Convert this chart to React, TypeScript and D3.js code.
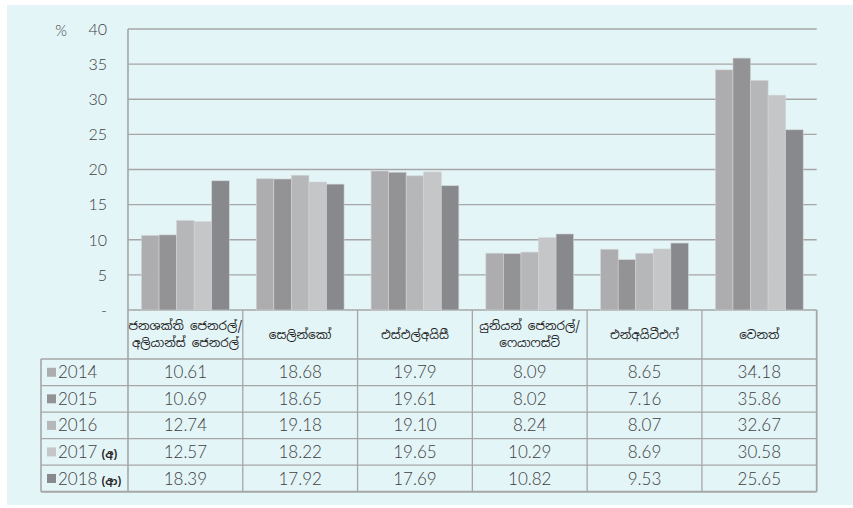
import React from "react";
import * as d3 from "d3";

const categories: string[][] = [
  ["ජනශක්ති ජෙනරල්/", "අලියාන්ස් ජෙනරල්"],
  ["සෙලින්කෝ"],
  ["එස්එල්අයිසී"],
  ["යුනියන් ජෙනරල්/", "ෆෙයාෆස්ට්"],
  ["එන්අයිටීඑෆ්"],
  ["වෙනත්"],
];
const seriesYears = ["2014", "2015", "2016", "2017", "2018"];
const seriesNotes = ["", "", "", "(අ)", "(ආ)"];
const v2014 = [10.61, 18.68, 19.79, 8.09, 8.65, 34.18];
const v2015 = [10.69, 18.65, 19.61, 8.02, 7.16, 35.86];
const v2016 = [12.74, 19.18, 19.1, 8.24, 8.07, 32.67];
const v2017 = [12.57, 18.22, 19.65, 10.29, 8.69, 30.58];
const v2018 = [18.39, 17.92, 17.69, 10.82, 9.53, 25.65];
const seriesValues = [v2014, v2015, v2016, v2017, v2018];
const yTicks = [0, 5, 10, 15, 20, 25, 30, 35, 40];
const colors = ["#adadaf", "#939396", "#b6b7b9", "#c5c6c8", "#88898c"];

const FONT = "Lato, 'Open Sans', sans-serif";
const SIN = "'Noto Sans Sinhala', 'Noto Sans', Lato, sans-serif";

export default function App() {
  const W = 853, H = 508;
  const left = 128, right = 816.7, top = 29, base = 310;
  const tableLeft = 41;
  const headerBottom = 359;
  const rowH = 26.55;
  const idx = categories.map((_, i) => String(i));
  const x = d3.scaleBand<string>().domain(idx).range([left, right]).padding(0);
  const inner = d3
    .scaleBand<string>()
    .domain(seriesYears)
    .range([13.5, x.bandwidth() - 13.5])
    .padding(0);
  const y = d3.scaleLinear().domain([0, 40]).range([base, top]);
  const tableBottom = headerBottom + rowH * seriesYears.length;
  const lineColor = "#a6a6a6";
  const textColor = "#404040";

  return (
    <svg
      width={W}
      height={H}
      style={{ position: "absolute", left: 0, top: 0 }}
    >
      <rect x={7} y={5} width={W - 7} height={500} fill="#e4f5f8" />
      {/* gridlines */}
      {yTicks.map((t) => (
        <line
          key={"g" + t}
          x1={left}
          x2={right}
          y1={y(t)}
          y2={y(t)}
          stroke={lineColor}
          strokeWidth={t === 0 ? 1.6 : 1.3}
        />
      ))}
      {/* tick labels */}
      {yTicks.map((t) => (
        <text
          key={"t" + t}
          x={107}
          y={y(t)}
          dy="0.36em"
          textAnchor="end"
          fontFamily={FONT}
          fontWeight={300}
          fontSize={16}
          fill={textColor}
        >
          {t === 0 ? "-" : t}
        </text>
      ))}
      <text
        x={61}
        y={y(40) + 2}
        dy="0.36em"
        textAnchor="middle"
        fontFamily={FONT}
        fontWeight={300}
        fontSize={15}
        fill={textColor}
      >
        %
      </text>
      {/* bars */}
      {categories.map((_, ci) =>
        seriesYears.map((yr, si) => {
          const v = seriesValues[si][ci];
          return (
            <rect
              key={ci + "-" + si}
              x={(x(String(ci)) as number) + (inner(yr) as number)}
              y={y(v)}
              width={inner.bandwidth()}
              height={base - y(v)}
              fill={colors[si]}
              stroke="#d2d3d5"
              strokeWidth={0.6}
            />
          );
        })
      )}
      {/* table lines */}
      <line x1={left} x2={left} y1={top} y2={tableBottom} stroke={lineColor} strokeWidth={1.6} />
      {idx.map((c, i) => (
        <line
          key={"v" + c}
          x1={(x(c) as number) + x.bandwidth()}
          x2={(x(c) as number) + x.bandwidth()}
          y1={base}
          y2={tableBottom}
          stroke={lineColor}
          strokeWidth={i === idx.length - 1 ? 1.8 : 1.3}
        />
      ))}
      <line x1={tableLeft} x2={tableLeft} y1={headerBottom} y2={tableBottom} stroke={lineColor} strokeWidth={1.6} />
      {d3.range(seriesYears.length + 1).map((r) => (
        <line
          key={"h" + r}
          x1={tableLeft}
          x2={right}
          y1={headerBottom + r * rowH}
          y2={headerBottom + r * rowH}
          stroke={lineColor}
          strokeWidth={r === seriesYears.length ? 1.8 : 1.3}
        />
      ))}
      {/* header labels */}
      {categories.map((lines, ci) => {
        const cx = (x(String(ci)) as number) + x.bandwidth() / 2;
        const cy = (base + headerBottom) / 2;
        return (
          <text
            key={"c" + ci}
            textAnchor="middle"
            fontFamily={SIN}
            fontSize={12}
            fill="#222"
          >
            {lines.map((l, li) => (
              <tspan
                key={li}
                x={cx}
                y={cy + (li - (lines.length - 1) / 2) * 17}
                dy="0.36em"
              >
                {l}
              </tspan>
            ))}
          </text>
        );
      })}
      {/* legend rows and values */}
      {seriesYears.map((yr, si) => {
        const cy = headerBottom + si * rowH + rowH / 2;
        return (
          <g key={"r" + yr}>
            <rect x={47} y={cy - 4.5} width={9} height={9} fill={colors[si]} />
            <text x={58} y={cy} dy="0.36em" fontFamily={FONT} fontWeight={300} fontSize={17} fill={textColor}>
              {yr}
              {seriesNotes[si] && (
                <tspan fontFamily={SIN} fontSize={11} fontWeight="bold" fill="#222" dx={4}>
                  {seriesNotes[si]}
                </tspan>
              )}
            </text>
            {categories.map((_, ci) => (
              <text
                key={ci}
                x={(x(String(ci)) as number) + x.bandwidth() / 2}
                y={cy}
                dy="0.36em"
                textAnchor="middle"
                fontFamily={FONT}
                fontWeight={300}
                fontSize={17}
                fill={textColor}
              >
                {seriesValues[si][ci].toFixed(2)}
              </text>
            ))}
          </g>
        );
      })}
    </svg>
  );
}
